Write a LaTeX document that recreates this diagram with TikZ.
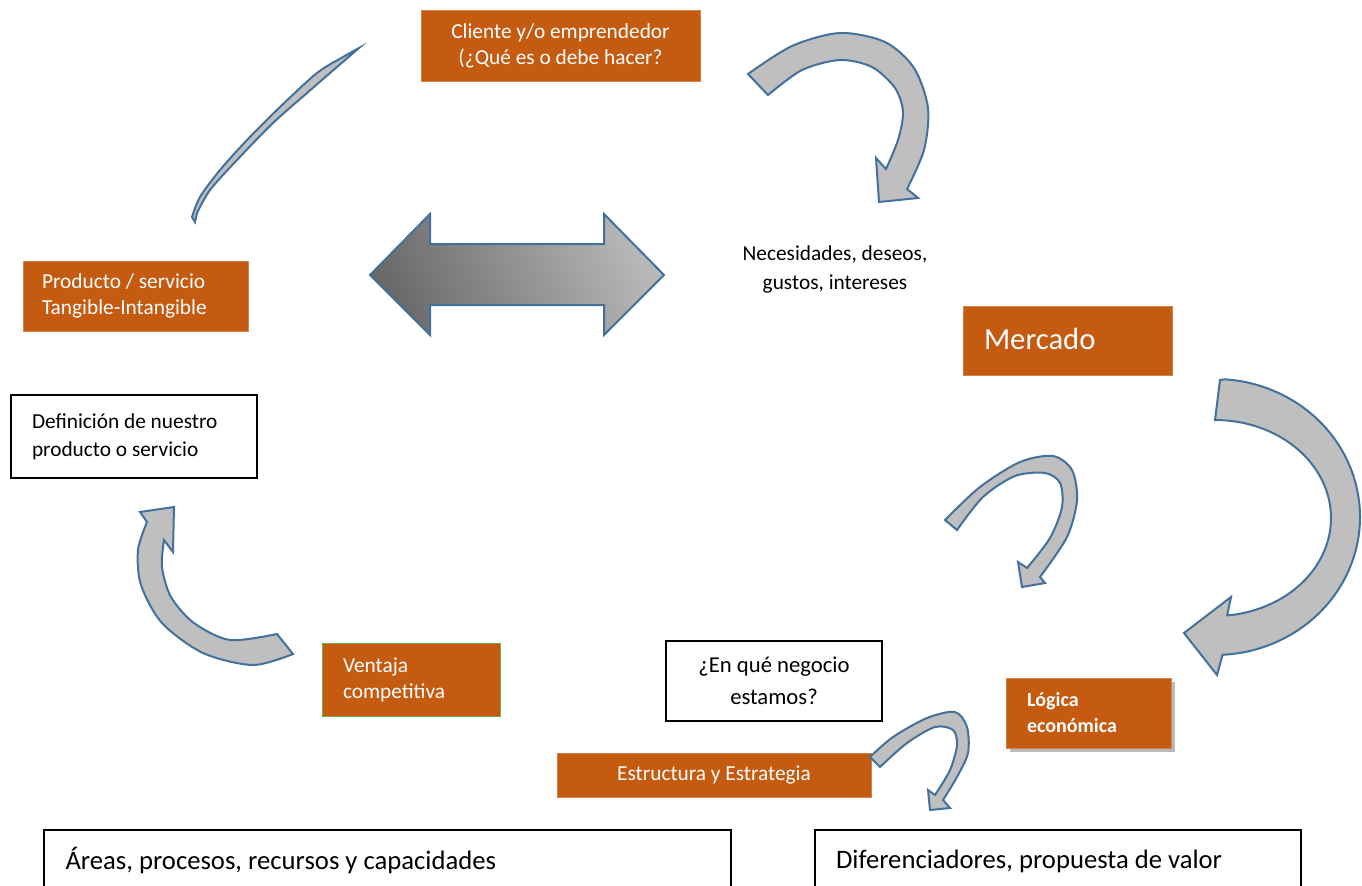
\documentclass[tikz,border=0pt]{standalone}
\usepackage{fontspec}
\setmainfont{Carlito}
\usetikzlibrary{shadows}
\definecolor{orng}{HTML}{C55A11}
\definecolor{bline}{HTML}{41719C}
\definecolor{agray}{HTML}{BFBFBF}
\definecolor{grn}{HTML}{70AD47}
\definecolor{gdark}{HTML}{6A6A6A}
\definecolor{glight}{HTML}{B8B8B8}
\begin{document}
\begin{tikzpicture}[x=0.75pt,y=-0.75pt,
  obox/.style={fill=orng, draw=orng!75!white, line width=0.75pt, text=white, inner sep=0pt,
    font=\fontsize{16}{19.5}\selectfont},
  wbox/.style={fill=white, draw=black, line width=1.5pt, text=black, inner sep=0pt,
    font=\fontsize{16}{21}\selectfont},
  carrow/.style={fill=agray, draw=bline, line width=1.5pt, line join=miter}]
\useasboundingbox (0,0) rectangle (1362,885);
\clip (0,0) rectangle (1362,885);

% boxes
\node[obox, minimum width=209.25pt, minimum height=53.25pt, align=center] (cliente) at (560.5,46)
  {Cliente y/o emprendedor\\(¿Qué es o debe hacer?};
\node[obox, minimum width=168.75pt, minimum height=52.5pt, text width=140.25pt, align=flush left] (producto) at (135.5,296)
  {Producto / servicio\\Tangible-Intangible};
\node[wbox, minimum width=184.5pt, minimum height=62.25pt, text width=153pt, align=flush left] (definicion) at (134,436.5)
  {Definición de nuestro\\producto o servicio};
\node[inner sep=0pt, align=center, font=\fontsize{16}{21.75}\selectfont] (necesidades) at (835,269)
  {Necesidades, deseos,\\gustos, intereses};
\node[obox, minimum width=156.75pt, minimum height=51.75pt, text width=125.25pt, align=flush left,
  font=\fontsize{23}{27}\selectfont] (mercado) at (1067.5,340.5) {\raisebox{2.5pt}{Mercado}};
\node[obox, draw=grn, minimum width=133.5pt, minimum height=54.75pt, text width=102pt, align=flush left] (ventaja) at (411,680)
  {Ventaja\\competitiva};
\node[wbox, minimum width=162pt, minimum height=60pt, align=center, font=\fontsize{17}{24}\selectfont] (negocio) at (774,681)
  {¿En qué negocio\\estamos?};
\node[obox, drop shadow={shadow xshift=3pt, shadow yshift=-3pt, fill=black!45, opacity=0.6},
  minimum width=123.75pt, minimum height=52.5pt, text width=92.25pt, align=flush left,
  font=\bfseries\fontsize{15}{19.5}\selectfont] (logica) at (1088.5,713)
  {Lógica\\económica};
\node[obox, minimum width=235.5pt, minimum height=33pt, align=center] (estructura) at (714,775)
  {Estructura y Estrategia};
\node[wbox, minimum width=515.25pt, minimum height=46.5pt, text width=483pt, align=flush left,
  font=\fontsize{20}{24}\selectfont] (areas) at (387.5,861)
  {Áreas, procesos, recursos y capacidades};
\node[wbox, minimum width=364.5pt, minimum height=46.5pt, text width=333pt, align=flush left,
  font=\fontsize{20}{24}\selectfont] (diferenciadores) at (1058,861)
  {Diferenciadores, propuesta de valor};

% thin curved arrow (top left)
\filldraw[carrow, line width=1.5pt]
  plot[smooth] coordinates {(359,48) (343,57) (317,73) (280,107) (247,140) (220,170) (200,197) (192,217)}
  -- (195,222)
  -- plot[smooth] coordinates {(197,213) (210,190) (237,160) (273,123) (307,93) (330,73)}
  -- cycle;

% double arrow
\shade[left color=gdark, right color=glight, shading angle=115]
  (370,275) -- (430,214) -- (430,244) -- (604,244) -- (604,214) -- (664,275)
  -- (604,335) -- (604,305) -- (430,305) -- (430,335) -- cycle;
\draw[draw=bline, line width=1.5pt, line join=miter]
  (370,275) -- (430,214) -- (430,244) -- (604,244) -- (604,214) -- (664,275)
  -- (604,335) -- (604,305) -- (430,305) -- (430,335) -- cycle;

% top right curved arrow
\filldraw[carrow]
  plot[smooth] coordinates {(748,74) (792,46) (840,33) (885,42) (914,68) (928,108) (924,150) (907,189)}
  -- (918,198) -- (879,202) -- (876,158) -- (886,169)
  -- plot[smooth] coordinates {(886,169) (898,140) (903,112) (895,88) (872,67) (840,60) (802,70) (768,95)}
  -- cycle;

% big right curved arrow (elliptic)
\filldraw[carrow]
  (1220,380) -- plot[domain=-86:87, samples=60, smooth] ({1215+145*cos(\x)},{517+138*sin(\x)})
  -- (1217,675) -- (1184,633) -- (1231,597) -- (1227,616)
  -- plot[domain=84:-90, samples=60, smooth] ({1215+116*cos(\x)},{518+98*sin(\x)})
  -- cycle;

% middle curved arrow
\filldraw[carrow]
  plot[smooth] coordinates {(945,520) (980,487) (1020,462) (1053,456) (1072,470) (1077,500) (1067,537) (1040,577)}
  -- (1045,583) -- (1022,587) -- (1018,562) -- (1027,568)
  -- plot[smooth] coordinates {(1027,568) (1050,538) (1062,507) (1060,483) (1045,473) (1015,476) (983,497) (957,530)}
  -- cycle;

% bottom left curved arrow
\filldraw[carrow]
  plot[smooth] coordinates {(293,654) (253,665) (203,653) (162,623) (141,585) (138,550) (147,522)}
  -- (140,512) -- (174,507) -- (173,552) -- (164,540)
  -- plot[smooth] coordinates {(164,540) (162,567) (171,597) (194,623) (230,640) (277,634)}
  -- cycle;

% small bottom curved arrow
\filldraw[carrow]
  plot[smooth] coordinates {(870,757) (893,737) (927,718) (955,712) (967,727) (968,753) (957,777) (943,800)}
  -- (950,808) -- (930,810) -- (928,790) -- (935,795)
  -- plot[smooth] coordinates {(935,795) (950,770) (957,745) (953,730) (935,727) (907,743) (880,767)}
  -- cycle;
\end{tikzpicture}
\end{document}
